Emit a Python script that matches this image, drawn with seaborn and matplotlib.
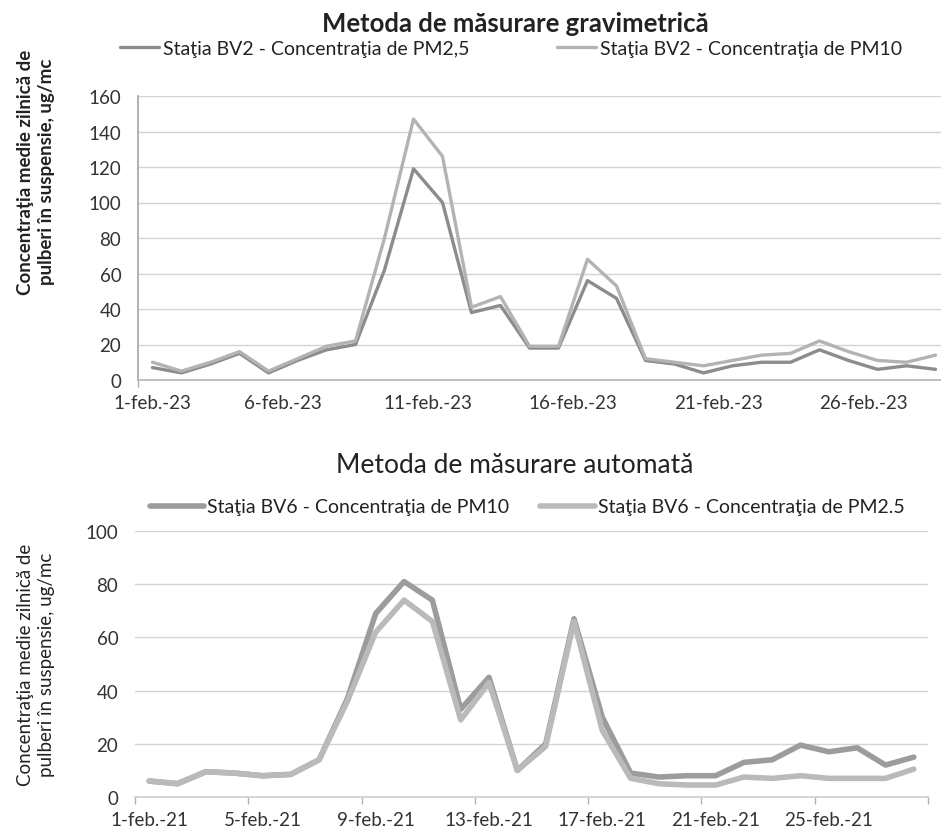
import pandas as pd
import matplotlib.pyplot as plt
import seaborn as sns

# ---- valori ----
day = list(range(1, 29))

grav_pm25 = [7, 4, 9, 15, 4, 11, 17, 20, 62, 119, 100, 38, 42, 18, 18, 56, 46, 11, 9, 4, 8, 10, 10, 17, 11, 6, 8, 6]
grav_pm10 = [10, 5, 10, 16, 5, 12, 19, 22, 80, 147, 126, 41, 47, 19, 19, 68, 53, 12, 10, 8, 11, 14, 15, 22, 16, 11, 10, 14]

auto_pm10 = [6, 5, 9.5, 9, 8, 8.5, 14, 37, 69, 81, 74, 33, 45, 10, 20, 67, 30, 9, 7.5, 8, 8, 13, 14, 19.5, 17, 18.5, 12, 15]
auto_pm25 = [6, 5, 9.5, 9, 8, 8.5, 14, 36, 62, 74, 66, 29, 43, 10, 19, 66, 25, 7, 5, 4.5, 4.5, 7.5, 7, 8, 7, 7, 7, 10.5]

grav_tick_days = [1, 5.5, 10.5, 15.5, 20.5, 25.5]
grav_tick_labels = ["1-feb.-23", "6-feb.-23", "11-feb.-23", "16-feb.-23", "21-feb.-23", "26-feb.-23"]
auto_tick_days = [1, 5, 9, 13, 17, 21, 25]
auto_tick_labels = ["1-feb.-21", "5-feb.-21", "9-feb.-21", "13-feb.-21", "17-feb.-21", "21-feb.-21", "25-feb.-21"]

lbl_g25 = "Staţia BV2 - Concentraţia de PM2,5"
lbl_g10 = "Staţia BV2 - Concentraţia de PM10"
lbl_a10 = "Staţia BV6 - Concentraţia de PM10"
lbl_a25 = "Staţia BV6 - Concentraţia de PM2.5"
ylab = "Concentraţia medie zilnică de\npulberi în suspensie, ug/mc"

df_grav = pd.concat([
    pd.DataFrame({"zi": day, "val": grav_pm25, "serie": lbl_g25}),
    pd.DataFrame({"zi": day, "val": grav_pm10, "serie": lbl_g10}),
], ignore_index=True)
df_auto = pd.concat([
    pd.DataFrame({"zi": day, "val": auto_pm10, "serie": lbl_a10}),
    pd.DataFrame({"zi": day, "val": auto_pm25, "serie": lbl_a25}),
], ignore_index=True)

sns.set_theme(style="white")
plt.rcParams["font.family"] = ["Lato", "DejaVu Sans"]
plt.rcParams["text.color"] = "#222222"
plt.rcParams["xtick.color"] = "#333333"
plt.rcParams["ytick.color"] = "#333333"

W, H = 941, 837
fig = plt.figure(figsize=(W / 100, H / 100), dpi=100)
ax1 = fig.add_axes([138 / W, 1 - 381 / H, 812 / W, 284 / H])
ax2 = fig.add_axes([135 / W, 1 - 798 / H, 793 / W, 266 / H])

# ---- grafic 1: gravimetric ----
sns.lineplot(data=df_grav, x="zi", y="val", hue="serie",
             palette={lbl_g25: "#8c8c8c", lbl_g10: "#b3b3b3"},
             linewidth=2.4, ax=ax1)
ax1.set_xlim(0.5, 28.5)
ax1.set_ylim(0, 160)
ax1.set_yticks(range(0, 161, 20))
ax1.set_xticks(grav_tick_days, grav_tick_labels)
ax1.set_xticks([0.5, 5.5, 10.5, 15.5, 20.5, 25.5], minor=True)

# ---- grafic 2: automat ----
sns.lineplot(data=df_auto, x="zi", y="val", hue="serie",
             palette={lbl_a10: "#9c9c9c", lbl_a25: "#bababa"},
             linewidth=4, ax=ax2)
ax2.set_xlim(0.5, 28.5)
ax2.set_ylim(0, 100)
ax2.set_yticks(range(0, 101, 20))
ax2.set_xticks(auto_tick_days, auto_tick_labels)
ax2.set_xticks([0.5 + 4 * i for i in range(8)], minor=True)

for ax in (ax1, ax2):
    ax.set_xlabel("")
    ax.set_ylabel("")
    ax.yaxis.grid(True, color="#d4d4d4", linewidth=1)
    ax.set_axisbelow(True)
    ax.tick_params(axis="x", which="major", length=0, pad=10, labelsize=13.5)
    ax.tick_params(axis="x", which="minor", length=5, color="#b0b0b0", width=1, bottom=True)
    ax.tick_params(axis="y", length=0, pad=12, labelsize=13.5)
    for s in ("top", "right"):
        ax.spines[s].set_visible(False)
    ax.spines["bottom"].set_color("#b8b8b8")

ax1.spines["left"].set_color("#a8a8a8")
ax2.spines["left"].set_visible(False)
ax2.spines["bottom"].set_color("#d0d0d0")

sns.move_legend(ax1, "center", bbox_to_anchor=(511 / W, 1 - 49 / H),
                bbox_transform=fig.transFigure, ncol=2, frameon=False, title=None,
                fontsize=14, handlelength=2.0, handletextpad=0.2, columnspacing=4.5)
sns.move_legend(ax2, "center", bbox_to_anchor=(527 / W, 1 - 508 / H),
                bbox_transform=fig.transFigure, ncol=2, frameon=False, title=None,
                fontsize=14, handlelength=2.8, handletextpad=0.15, columnspacing=1.6)

fig.text(515 / W, 1 - 24 / H, "Metoda de măsurare gravimetrică",
         ha="center", va="center", fontsize=18.5, fontweight="bold")
fig.text(515 / W, 1 - 466 / H, "Metoda de măsurare automată",
         ha="center", va="center", fontsize=19)

fig.text(36 / W, 1 - 172 / H, ylab, rotation=90, ha="center", va="center",
         multialignment="center", fontsize=13.5, fontweight="bold", linespacing=1.25)
fig.text(36 / W, 1 - 665 / H, ylab, rotation=90, ha="center", va="center",
         multialignment="center", fontsize=13.5, linespacing=1.25)

fig.savefig("out.png", dpi=100)
